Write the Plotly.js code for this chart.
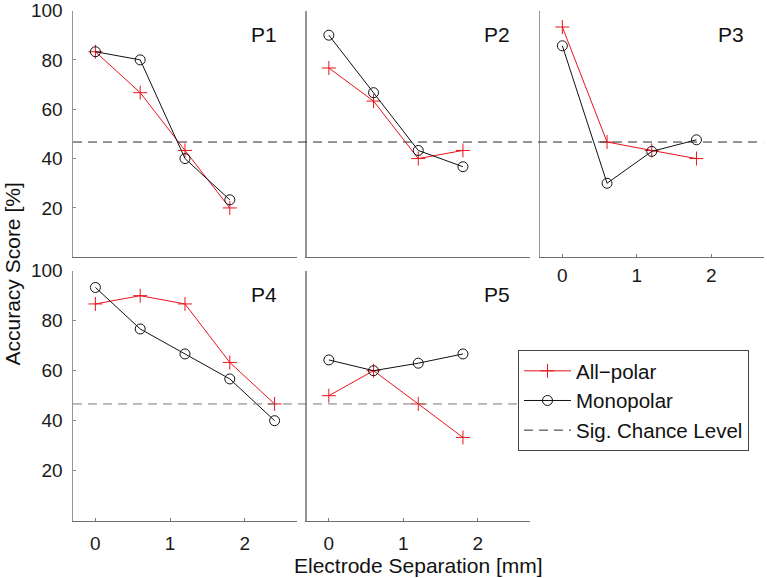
<!DOCTYPE html>
<html>
<head>
<meta charset="utf-8">
<script src="https://cdn.plot.ly/plotly-3.0.1.min.js"></script>
<style>html,body{margin:0;padding:0;background:#fff;}#chart{width:767px;height:578px;}</style>
</head>
<body>
<div id="chart"></div>
<script>
// ---- data ----
const separation = [0, 0.6, 1.2, 1.8];
const separationP4 = [0, 0.6, 1.2, 1.8, 2.4];
const p1AllPolar = [83.3, 66.7, 43.3, 20.0];
const p1Monopolar = [83.3, 80.0, 40.0, 23.3];
const p2AllPolar = [76.7, 63.3, 40.0, 43.3];
const p2Monopolar = [90.0, 66.7, 43.3, 36.7];
const p3AllPolar = [93.3, 46.7, 43.3, 40.0];
const p3Monopolar = [85.7, 30.0, 42.9, 47.6];
const p4AllPolar = [86.7, 90.0, 86.7, 63.3, 46.7];
const p4Monopolar = [93.3, 76.7, 66.7, 56.7, 40.0];
const p5AllPolar = [50.0, 60.0, 46.7, 33.3];
const p5Monopolar = [64.3, 60.0, 63.0, 66.7];
const chanceLevel = 46.7;
const chanceSpan = [0, 1];
const panelNames = ['P1', 'P2', 'P3', 'P4', 'P5'];
const xTickVals = [0, 1, 2];
const yTickVals = [20, 40, 60, 80, 100];
const seriesNames = ['All\u2212polar', 'Monopolar', 'Sig. Chance Level'];

// ---- layout helpers ----
const W = 767, H = 578;
const px = v => v / W;
const py = v => 1 - v / H;
const cols = [[73, 297], [306.5, 530], [540, 763.5]];
const rows = [[10.5, 257.3], [270.7, 520.7]];
const FONT = 'Liberation Sans, Arial, Helvetica, sans-serif';
const RED = '#e8141c';

const panels = [
  {x: separation, a: p1AllPolar, m: p1Monopolar, c: 0, r: 0, xl: false, yl: true},
  {x: separation, a: p2AllPolar, m: p2Monopolar, c: 1, r: 0, xl: false, yl: false},
  {x: separation, a: p3AllPolar, m: p3Monopolar, c: 2, r: 0, xl: true, yl: false, stand: 1},
  {x: separationP4, a: p4AllPolar, m: p4Monopolar, c: 0, r: 1, xl: true, yl: true, stand: 5},
  {x: separation, a: p5AllPolar, m: p5Monopolar, c: 1, r: 1, xl: true, yl: false, stand: 5}
];

const data = [];
const layout = {
  width: W, height: H,
  margin: {l: 0, r: 0, t: 0, b: 0},
  paper_bgcolor: '#fff', plot_bgcolor: 'rgba(0,0,0,0)',
  font: {family: FONT, size: 19, color: '#1a1a1a'},
  showlegend: true,
  legend: {
    x: px(518), y: py(350), xanchor: 'left', yanchor: 'top',
    bgcolor: '#fff', bordercolor: '#444', borderwidth: 1,
    font: {family: FONT, size: 20.5, color: '#111'},
    itemwidth: 47, tracegroupgap: 0
  },
  annotations: []
};

// full-width hidden axes for the chance-level line (one per row)
[[6, 0, '#2a2a2a', [73, 763.5], true], [7, 1, '#7a7a7a', [73, 740], false]].forEach(([k, r, col, span, leg]) => {
  layout['xaxis' + k] = {domain: [px(span[0]), px(span[1])], range: [0, 1], visible: false, anchor: 'y' + k};
  layout['yaxis' + k] = {domain: [py(rows[r][1]), py(rows[r][0])], range: [0, 100], visible: false, anchor: 'x' + k};
  data.push({
    x: chanceSpan, y: [chanceLevel, chanceLevel], xaxis: 'x' + k, yaxis: 'y' + k,
    mode: 'lines', line: {color: col, width: 1, dash: '9px,6px'},
    name: seriesNames[2], showlegend: leg, legendrank: 3, hoverinfo: 'skip'
  });
});

panels.forEach((p, i) => {
  const n = i + 1;
  const xa = 'xaxis' + (n === 1 ? '' : n), ya = 'yaxis' + (n === 1 ? '' : n);
  const xr = 'x' + (n === 1 ? '' : n), yr = 'y' + (n === 1 ? '' : n);
  layout[xa] = {
    domain: [px(cols[p.c][0]), px(cols[p.c][1])], anchor: yr,
    range: [-0.3, 2.7], tickvals: xTickVals, showticklabels: p.xl,
    ticks: p.xl ? 'inside' : '', ticklen: 3, tickcolor: '#777',
    showline: true, linecolor: '#6e6e6e', linewidth: 1,
    showgrid: false, zeroline: false, ticklabelstandoff: p.stand || 0,
    ticklabeloverflow: 'allow',
    tickfont: {family: FONT, size: 19, color: '#1a1a1a'}
  };
  layout[ya] = {
    domain: [py(rows[p.r][1]), py(rows[p.r][0])], anchor: xr,
    range: [0, 100], tickvals: yTickVals, showticklabels: p.yl,
    ticks: p.yl ? 'inside' : '', ticklen: 3, tickcolor: '#888',
    showline: true, linecolor: '#959595', linewidth: 1.5,
    showgrid: false, zeroline: false, ticklabelstandoff: 5,
    ticklabeloverflow: 'allow',
    tickfont: {family: FONT, size: 19, color: '#1a1a1a'}
  };
  data.push({
    x: p.x, y: p.a, xaxis: xr, yaxis: yr, mode: 'lines+markers',
    name: seriesNames[0], showlegend: i === 0, legendrank: 1,
    line: {color: RED, width: 1},
    marker: {symbol: 'cross-thin-open', size: 10, color: RED, line: {color: RED, width: 1}}
  });
  data.push({
    x: p.x, y: p.m, xaxis: xr, yaxis: yr, mode: 'lines+markers',
    name: seriesNames[1], showlegend: i === 0, legendrank: 2,
    line: {color: '#111', width: 1},
    marker: {symbol: 'circle-open', size: 10, color: '#111', line: {color: '#111', width: 1}}
  });
  layout.annotations.push({
    text: panelNames[i], xref: 'paper', yref: 'paper',
    x: px(cols[p.c][1] - 33), y: py(rows[p.r][0] + 24),
    xanchor: 'center', yanchor: 'middle', showarrow: false,
    font: {family: FONT, size: 21, color: '#111'}
  });
});

layout.annotations.push({
  text: 'Electrode Separation [mm]', xref: 'paper', yref: 'paper',
  x: px(418), y: py(565), xanchor: 'center', yanchor: 'middle', showarrow: false,
  font: {family: FONT, size: 21, color: '#111'}
});
layout.annotations.push({
  text: 'Accuracy Score [%]', xref: 'paper', yref: 'paper', textangle: -90,
  x: px(12.5), y: py(274), xanchor: 'center', yanchor: 'middle', showarrow: false,
  font: {family: FONT, size: 21, color: '#111'}
});

Plotly.newPlot('chart', data, layout, {staticPlot: true, displayModeBar: false});
</script>
</body>
</html>
